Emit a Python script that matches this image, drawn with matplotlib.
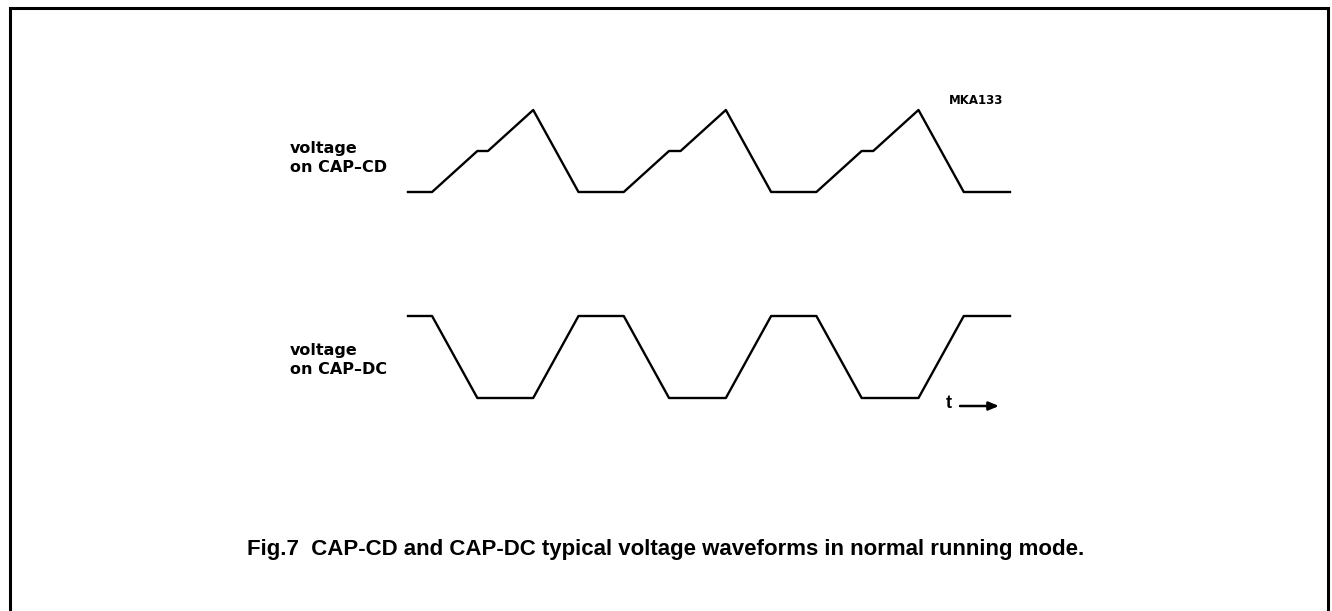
import matplotlib.pyplot as plt

# waveform breakpoints (time in arbitrary units, voltage normalised 0..1)
t_cd = [0, 1.25, 3.6, 4.15, 6.5, 8.85, 11.2, 13.55, 14.15, 16.5, 18.85,
        21.2, 23.55, 24.15, 26.5, 28.85, 31.25]
v_cd = [0, 0, 0.5, 0.5, 1, 0, 0, 0.5, 0.5, 1, 0, 0, 0.5, 0.5, 1, 0, 0]

t_dc = [0, 1.25, 3.6, 6.5, 8.85, 11.2, 13.55, 16.5, 18.85, 21.2, 23.55,
        26.5, 28.85, 31.25]
v_dc = [1, 1, 0, 0, 1, 1, 0, 0, 1, 1, 0, 0, 1, 1]

label_cd = "voltage\non CAP–CD"
label_dc = "voltage\non CAP–DC"
caption = "Fig.7  CAP-CD and CAP-DC typical voltage waveforms in normal running mode."
code = "MKA133"

W, H = 1332, 611
fig = plt.figure(figsize=(W / 100, H / 100), dpi=100)

# background axes in pixel units for frame and text
bg = fig.add_axes([0, 0, 1, 1])
bg.set_xlim(0, W)
bg.set_ylim(H, 0)
bg.axis("off")
bg.plot([10, 10, 1328, 1328], [H + 5, 8, 8, H + 5], color="black", lw=2.2,
        solid_joinstyle="miter", clip_on=False)


def wave_axes(x0, x1, ytop, ybot):
    return fig.add_axes([x0 / W, (H - ybot) / H, (x1 - x0) / W, (ybot - ytop) / H])


ax1 = wave_axes(408, 1010, 110, 192)
ax1.plot(t_cd, v_cd, color="black", lw=1.7, clip_on=False)
ax1.set_xlim(t_cd[0], t_cd[-1])
ax1.set_ylim(0, 1)
ax1.axis("off")

ax2 = wave_axes(408, 1010, 316, 398)
ax2.plot(t_dc, v_dc, color="black", lw=1.7, clip_on=False)
ax2.set_xlim(t_dc[0], t_dc[-1])
ax2.set_ylim(0, 1)
ax2.axis("off")

lab_font = dict(family="DejaVu Sans", fontsize=11.5, weight="bold",
                linespacing=1.25, ha="left", va="center")
bg.text(290, 158, label_cd, **lab_font)
bg.text(290, 360, label_dc, **lab_font)

bg.text(949, 100, code, family="DejaVu Sans", fontsize=8.5, weight="bold",
        ha="left", va="center")

bg.text(946, 404, "t", family="Liberation Sans", fontsize=13, weight="bold",
        ha="left", va="center")
bg.annotate("", xy=(999, 406), xytext=(960, 406),
            arrowprops=dict(arrowstyle="-|>,head_length=0.6,head_width=0.25",
                            color="black", lw=1.8, shrinkA=0, shrinkB=0))

bg.text(666, 549, caption, family="Liberation Sans", fontsize=16,
        weight="bold", ha="center", va="center")

fig.savefig("out.png", dpi=100, facecolor="white")
plt.close(fig)
